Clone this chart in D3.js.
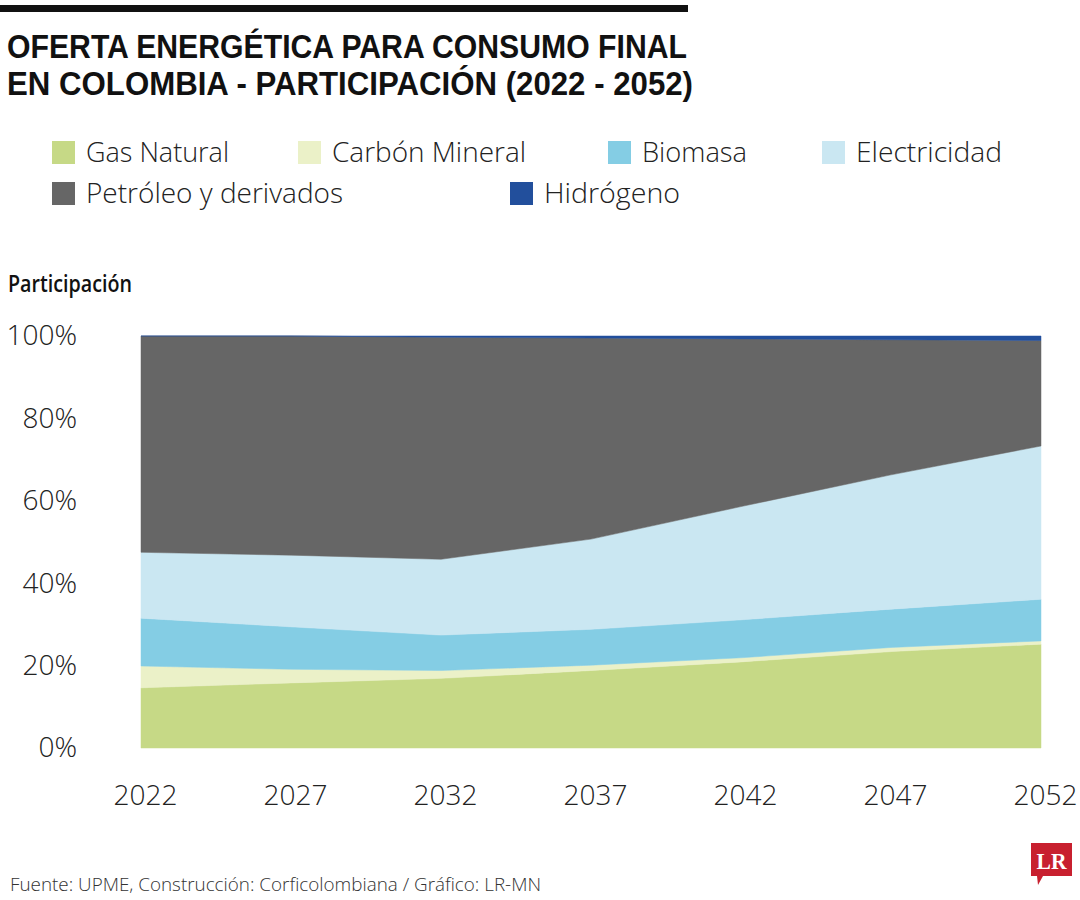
<!DOCTYPE html>
<html><head><meta charset="utf-8">
<script src="https://cdn.jsdelivr.net/npm/d3@7"></script>
<style>
html,body{margin:0;padding:0;background:#fff;}
svg{display:block;}
</style></head>
<body>
<svg id="chart" width="1080" height="900"></svg>
<script>
// ---- data ----
const years = [2022, 2027, 2032, 2037, 2042, 2047, 2052];
const seriesNames = ["Gas Natural", "Carbón Mineral", "Biomasa", "Electricidad", "Petróleo y derivados", "Hidrógeno"];
const gasNatural   = [14.6, 15.8, 16.9, 18.8, 20.9, 23.4, 25.2];
const carbonMineral= [5.3, 3.3, 1.9, 1.3, 1.0, 1.0, 0.8];
const biomasa      = [11.6, 10.3, 8.6, 8.7, 9.2, 9.3, 10.1];
const electricidad = [16.0, 17.4, 18.4, 21.9, 27.5, 32.6, 37.2];
const petroleo     = [52.5, 53.2, 53.9, 48.8, 40.7, 32.8, 25.6];
const hidrogeno    = [0.0, 0.0, 0.3, 0.5, 0.7, 0.9, 1.1];
const yTicks = [0, 20, 40, 60, 80, 100];
const colors = ["#c6d986", "#ebf1c8", "#84cde4", "#cae7f2", "#666666", "#224f9c"];
const titleLines = ["OFERTA ENERGÉTICA PARA CONSUMO FINAL", "EN COLOMBIA - PARTICIPACIÓN (2022 - 2052)"];
const yTitle = "Participación";
const source = "Fuente: UPME, Construcción: Corficolombiana / Gráfico: LR-MN";

// ---- build ----
const SANS = "\"Open Sans\",\"Liberation Sans\",sans-serif";
const seriesVals = [gasNatural, carbonMineral, biomasa, electricidad, petroleo, hidrogeno];
const table = years.map((yr, i) => {
  const o = {year: yr};
  seriesNames.forEach((n, k) => o[n] = seriesVals[k][i]);
  return o;
});
const svg = d3.select("#chart");

// top bar + title
svg.append("rect").attr("x", 0).attr("y", 5).attr("width", 688).attr("height", 7).attr("fill", "#111");
const titleW = [680, 686];
titleLines.forEach((t, i) => {
  svg.append("text").attr("x", 7).attr("y", 58 + i * 37)
    .style("font-family", "\"Liberation Sans\",Arial,sans-serif")
    .attr("font-size", 32.5).attr("font-weight", 700).attr("fill", "#111")
    .attr("textLength", titleW[i]).attr("lengthAdjust", "spacingAndGlyphs")
    .text(t);
});

// legend
const legendPos = [
  {x: 52, y: 141, w: 143}, {x: 298, y: 141, w: 194}, {x: 608, y: 141, w: 105}, {x: 822, y: 141, w: 146},
  {x: 52, y: 182, w: 257}, {x: 510, y: 182, w: 136}
];
seriesNames.forEach((n, k) => {
  const p = legendPos[k];
  svg.append("rect").attr("x", p.x).attr("y", p.y).attr("width", 23).attr("height", 23).attr("fill", colors[k]);
  svg.append("text").attr("x", p.x + 34).attr("y", p.y + 21).style("font-family", SANS)
    .attr("font-size", 28).attr("font-weight", 300).attr("fill", "#222")
    .attr("textLength", p.w).attr("lengthAdjust", "spacingAndGlyphs").text(n);
});

// y title
svg.append("text").attr("x", 8).attr("y", 292).style("font-family", SANS).attr("font-size", 24).attr("font-weight", 600)
  .attr("fill", "#111").attr("textLength", 124).attr("lengthAdjust", "spacingAndGlyphs").text(yTitle);

// scales
const x = d3.scaleLinear().domain([2022, 2052]).range([141, 1041]);
const y = d3.scaleLinear().domain([0, 100]).range([748, 336]);

const stack = d3.stack().keys(seriesNames);
const layers = stack(table);
const area = d3.area()
  .x(d => x(d.data.year))
  .y0(d => y(d[0]))
  .y1(d => y(d[1]));

svg.append("g").selectAll("path").data(layers).join("path")
  .attr("d", area).attr("fill", (d, i) => colors[i]).attr("stroke", (d, i) => colors[i]).attr("stroke-width", 0.5);

// y axis
const yAxis = svg.append("g").attr("transform", "translate(77,0)")
  .call(d3.axisLeft(y).tickValues(yTicks).tickFormat(d => d + "%").tickSize(0).tickPadding(0));
yAxis.select(".domain").remove();
yAxis.selectAll("text").attr("font-size", 28).attr("font-weight", 300).attr("fill", "#222")
  .style("font-family", SANS);

// x axis
const xAxis = svg.append("g").attr("transform", "translate(4,748)")
  .call(d3.axisBottom(x).tickValues(years).tickFormat(d3.format("d")).tickSize(0).tickPadding(37));
xAxis.select(".domain").remove();
xAxis.selectAll("text").attr("font-size", 28).attr("font-weight", 300).attr("fill", "#222")
  .style("font-family", SANS);

// source
svg.append("text").attr("x", 10).attr("y", 891).style("font-family", SANS).attr("font-size", 19).attr("font-weight", 300)
  .attr("fill", "#333").attr("textLength", 531).attr("lengthAdjust", "spacingAndGlyphs").text(source);

// LR logo
const logo = svg.append("g").attr("transform", "translate(1031,843)");
logo.append("path").attr("d", "M0,0 H41 V33 H12 L7,42 L6,33 H0 Z").attr("fill", "#c8202f");
logo.append("text").attr("x", 20.5).attr("y", 26).attr("text-anchor", "middle")
  .style("font-family", "\"Liberation Serif\",\"DejaVu Serif\",serif").attr("font-weight", 700)
  .attr("font-size", 24).attr("fill", "#fff").attr("textLength", 30).attr("lengthAdjust", "spacingAndGlyphs").text("LR");
</script>
</body></html>
